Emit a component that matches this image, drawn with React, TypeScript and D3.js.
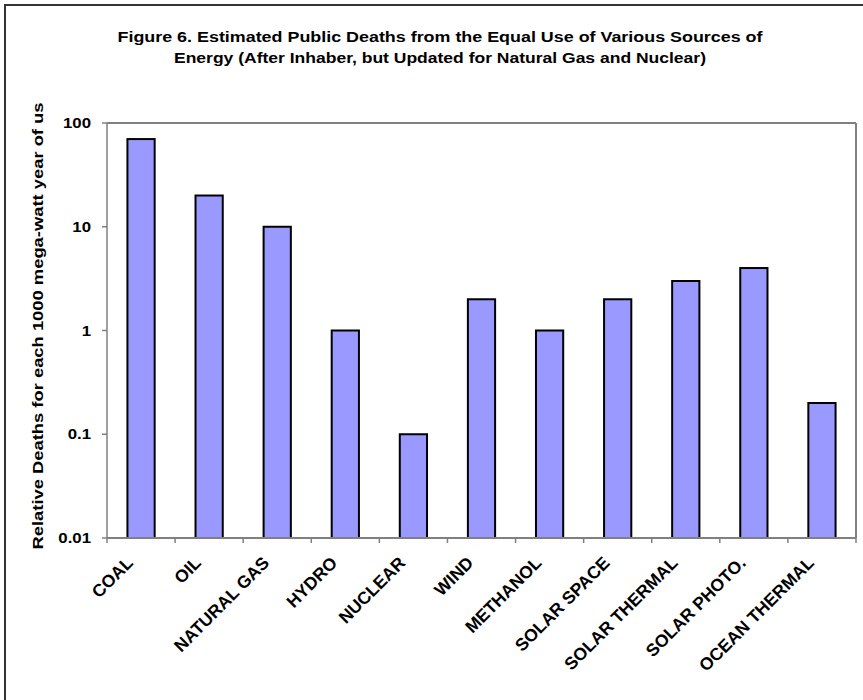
import React from "react";
import * as d3 from "d3";

const categories = ["COAL", "OIL", "NATURAL GAS", "HYDRO", "NUCLEAR", "WIND", "METHANOL", "SOLAR SPACE", "SOLAR THERMAL", "SOLAR PHOTO.", "OCEAN THERMAL"];
const deaths = [70, 20, 10, 1, 0.1, 2, 1, 2, 3, 4, 0.2];
const yTicks = [0.01, 0.1, 1, 10, 100];
const yTickLabels = ["0.01", "0.1", "1", "10", "100"];
const titleLines = [
  "Figure 6. Estimated Public Deaths from the Equal Use of Various Sources of",
  "Energy (After Inhaber, but Updated for Natural Gas and Nuclear)",
];
const yAxisLabel = "Relative Deaths for each 1000 mega-watt year of us";

const W = 863;
const H = 700;
const plot = { left: 107, right: 856, top: 123, bottom: 538 };
const FONT = "'Liberation Sans', Arial, sans-serif";
const titleWidths = [645, 532];

export default function App() {
  const x = d3
    .scaleBand<string>()
    .domain(categories)
    .range([plot.left, plot.right])
    .paddingInner(0.6)
    .paddingOuter(0.3);
  const y = d3.scaleLog().domain([0.01, 100]).range([plot.bottom, plot.top]);
  const step = x.step();
  const boundaries = d3.range(categories.length + 1).map((i) => plot.left + i * step);

  return (
    <svg width={W} height={H} style={{ position: "absolute", left: 0, top: 0, background: "#fff" }} fontFamily={FONT}>
      <rect x={0} y={0} width={W} height={H} fill="#fff" />
      <rect x={5} y={5} width={W + 50} height={H + 50} fill="none" stroke="#333" strokeWidth={2} />
      {titleLines.map((t, i) => (
        <text
          key={i}
          x={440}
          y={42 + i * 21}
          textAnchor="middle"
          fontSize={14}
          fontWeight="bold"
          fill="#000"
          textLength={titleWidths[i]}
          lengthAdjust="spacingAndGlyphs"
        >
          {t}
        </text>
      ))}
      <text
        transform={`translate(43, ${326}) rotate(-90)`}
        textAnchor="middle"
        fontSize={15}
        fontWeight="bold"
        fill="#000"
        textLength={447}
        lengthAdjust="spacingAndGlyphs"
      >
        {yAxisLabel}
      </text>
      {/* plot area border */}
      <line x1={plot.left} x2={plot.right} y1={plot.top} y2={plot.top} stroke="#808080" strokeWidth={2} />
      <line x1={plot.right} x2={plot.right} y1={plot.top} y2={plot.bottom} stroke="#808080" strokeWidth={2} />
      {/* bars */}
      {categories.map((c, i) => (
        <rect
          key={c}
          x={x(c)}
          y={y(deaths[i])}
          width={x.bandwidth()}
          height={plot.bottom - y(deaths[i])}
          fill="#9999FF"
          stroke="#000"
          strokeWidth={2}
        />
      ))}
      {/* axes */}
      <line x1={plot.left} x2={plot.left} y1={plot.top} y2={plot.bottom} stroke="#808080" strokeWidth={1.5} />
      <line x1={plot.left} x2={plot.right} y1={plot.bottom} y2={plot.bottom} stroke="#808080" strokeWidth={2} />
      {yTicks.map((v, i) => (
        <g key={v}>
          <line x1={plot.left - 5} x2={plot.left} y1={y(v)} y2={y(v)} stroke="#808080" strokeWidth={1.5} />
          <text
            transform={`translate(91, ${y(v)}) scale(1.2, 1)`}
            dy="0.36em"
            textAnchor="end"
            fontSize={14}
            fontWeight="bold"
            fill="#000"
          >
            {yTickLabels[i]}
          </text>
        </g>
      ))}
      {boundaries.map((bx, i) => (
        <line key={i} x1={bx} x2={bx} y1={plot.bottom} y2={plot.bottom + 5} stroke="#808080" strokeWidth={1.5} />
      ))}
      {categories.map((c) => {
        const cx = (x(c) as number) + x.bandwidth() / 2;
        return (
          <text
            key={c}
            transform={`translate(${cx - 7}, ${564}) rotate(-45)`}
            textAnchor="end"
            fontSize={17.5}
            fontWeight="bold"
            fill="#000"
          >
            {c}
          </text>
        );
      })}
    </svg>
  );
}
